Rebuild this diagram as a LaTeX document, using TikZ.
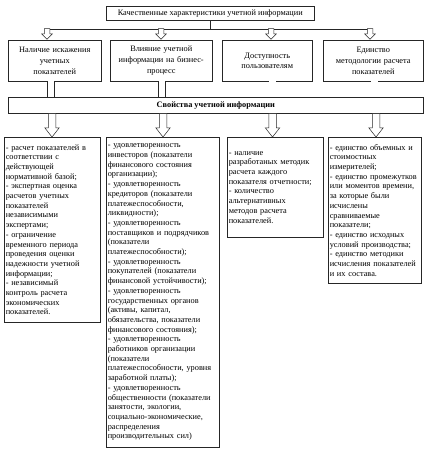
\documentclass[tikz,border=0pt]{standalone}
\usepackage{fontspec}
\setmainfont{Liberation Serif}
\usetikzlibrary{positioning,shapes.arrows,shadows}

\begin{document}
\begin{tikzpicture}[x=1pt,y=-1pt,
      font=\fontsize{8.3}{9.7}\selectfont,
      box/.style={draw=black!85,fill=white,line width=0.5pt,anchor=north west,inner xsep=1.5pt,inner ysep=2pt,
        drop shadow={shadow xshift=0.8pt,shadow yshift=-0.8pt,fill=black!40}},
      head/.style={box,align=center,font=\fontsize{8.3}{10.8}\selectfont},
      lst/.style={box,align=left},
      link/.style={draw=black!85,line width=0.5pt,double=white,double distance=6.5pt},
      smarr/.style={single arrow,draw=black!85,fill=white,line width=0.5pt,rotate=-90,anchor=tail,
        inner xsep=0pt,inner ysep=2.5pt,single arrow head extend=2.5pt,minimum width=0pt},
      bigarr/.style={smarr,inner ysep=3.5pt,single arrow head extend=3.5pt,single arrow tip angle=76}]

    \useasboundingbox (0,0) rectangle (435,454);

    % top level
    \node[head,minimum width=208pt,minimum height=14pt] (top) at (106,6)
      {Качественные характеристики учетной информации};
    \coordinate (hl) at (47,29.5);
    \coordinate (hr) at (370,29.5);
    \draw[draw=black!85,line width=0.5pt] (top.south) -- (top.south |- hl);
    \draw[draw=black!85,line width=0.5pt] (hl) -- (hr);
    \foreach \x [count=\i] in {47,161,271,370}
      \node[smarr,minimum height=10.5pt] (up\i) at (\x,28.5) {};

    % characteristics
    \node[head,text width=90pt,minimum height=41pt] (n1) at (8,40) {Наличие искажения\\учетных\\показателей};
    \node[head,text width=99pt,minimum height=41pt] (n2) at (110,40) {Влияние учетной\\информации на бизнес-\\процесс};
    \node[head,text width=87pt,minimum height=41pt] (n3) at (222,40) {Доступность\\пользователям};
    \node[head,text width=97pt,minimum height=41pt] (n4) at (323,40) {Единство\\методологии расчета\\показателей};

    \node[head,font=\fontsize{8.3}{9.7}\selectfont\bfseries,minimum width=414.5pt,minimum height=16pt] (bar) at (8.3,97.3)
      {Свойства учетной информации};

    \draw[link] ([xshift=-4pt]n1.south) -- ([xshift=-4pt]n1.south |- bar.north);
    \draw[link] ([xshift=0.5pt]n2.south) -- ([xshift=0.5pt]n2.south |- bar.north);
    \draw[link] ([xshift=5pt]n3.south) -- ([xshift=5pt]n3.south |- bar.north);
    \draw[link] ([xshift=1pt]n4.south) -- ([xshift=1pt]n4.south |- bar.north);

    \foreach \x [count=\i] in {52,163,272.5,376}
      \node[bigarr,minimum height=23.5pt] (dn\i) at (\x,113.3) {};

    % properties
    \node[lst,text width=93pt,minimum height=185pt] (pA) at (4,137)
      {- расчет показателей в\\соответствии с\\действующей\\нормативной базой;\\- экспертная оценка\\расчетов учетных\\показателей\\независимыми\\экспертами;\\- ограничение\\временного периода\\проведения оценки\\надежности учетной\\информации;\\- независимый\\контроль расчета\\экономических\\показателей.};
    \node[lst,text width=110pt,minimum height=310pt] (pB) at (106,137)
      {- удовлетворенность\\инвесторов (показатели\\финансового состояния\\организации);\\- удовлетворенность\\кредиторов (показатели\\платежеспособности,\\ликвидности);\\- удовлетворенность\\поставщиков и подрядчиков\\(показатели\\платежеспособности);\\- удовлетворенность\\покупателей (показатели\\финансовой устойчивости);\\- удовлетворенность\\государственных органов\\(активы, капитал,\\обязательства, показатели\\финансового состояния);\\- удовлетворенность\\работников организации\\(показатели\\платежеспособности, уровня\\заработной платы);\\- удовлетворенность\\общественности (показатели\\занятости, экологии,\\социально-экономические,\\распределения\\производительных сил)};
    \node[lst,text width=93pt,minimum height=100pt] (pC) at (227,137)
      {- наличие\\разработаных методик\\расчета каждого\\показателя отчетности;\\- количество\\альтернативных\\методов расчета\\показателей.};
    \node[lst,text width=90pt,minimum height=146pt] (pD) at (328,137)
      {- единство объемных и\\стоимостных\\измерителей;\\- единство промежутков\\или моментов времени,\\за которые были\\исчислены\\сравниваемые\\показатели;\\- единство исходных\\условий производства;\\- единство методики\\исчисления показателей\\и их состава.};
  \end{tikzpicture}
\end{document}
